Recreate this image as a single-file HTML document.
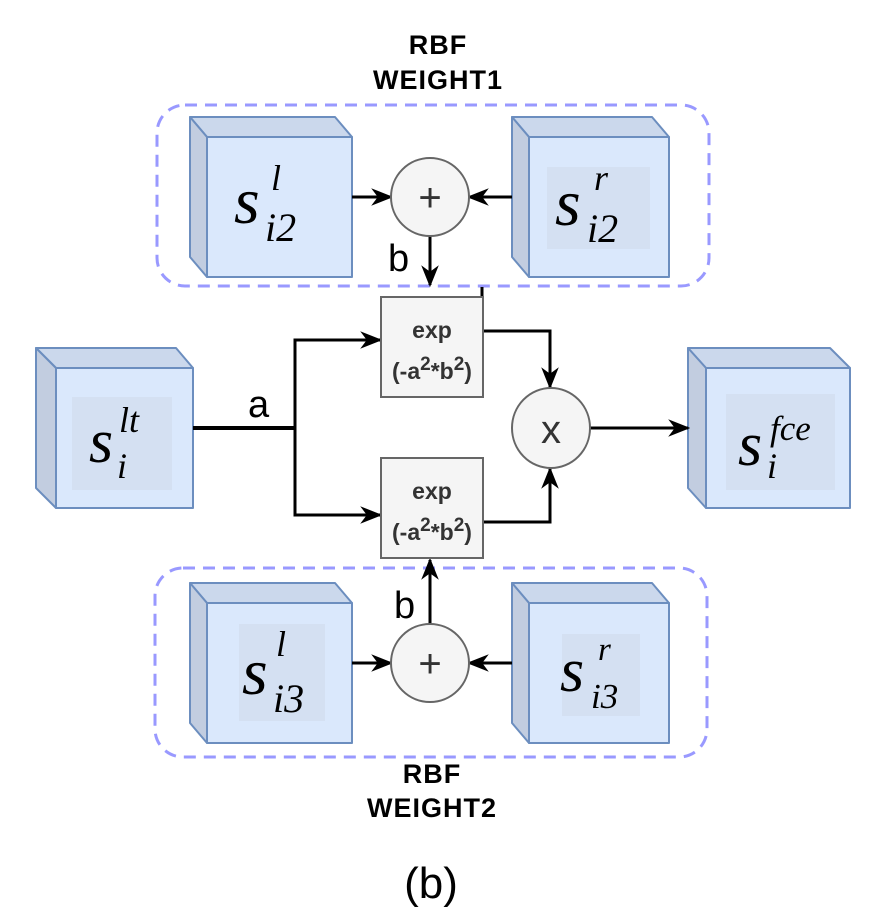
<!DOCTYPE html><html><head><style>body{margin:0;background:#fff}svg{display:block}</style></head><body>
<svg width="879" height="913" xmlns="http://www.w3.org/2000/svg" font-family="Liberation Sans, sans-serif">
<defs><marker id="a" viewBox="0 0 10 10" refX="9" refY="5" markerWidth="22" markerHeight="22" orient="auto" markerUnits="userSpaceOnUse"><path d="M0,1 L10,5 L0,9 L3,5z" fill="#000"/></marker></defs>
<g text-anchor="middle" font-weight="bold" style="font-size:27px;letter-spacing:1px"><text x="438" y="54">RBF</text><text x="438" y="89">WEIGHT1</text><text x="432" y="783">RBF</text><text x="432" y="817">WEIGHT2</text></g>
<text x="431" y="898" text-anchor="middle" style="font-size:44px">(b)</text>
<rect x="157" y="105" width="552" height="181" rx="28" fill="none" stroke="#9999ff" stroke-width="3" stroke-dasharray="12 8"/>
<rect x="155" y="568" width="552" height="189" rx="28" fill="none" stroke="#9999ff" stroke-width="3" stroke-dasharray="12 8"/>
<g stroke="#6c8ebf" stroke-width="2" stroke-linejoin="round">
<g><polygon points="190,117 335,117 352,137 207,137" fill="#cbd8ec"/><polygon points="190,117 207,137 207,277 190,257" fill="#c2cde0"/><rect x="207" y="137" width="145" height="140" fill="#dae8fc"/></g>
<g transform="translate(322,0)"><polygon points="190,117 330,117 347,137 207,137" fill="#cbd8ec"/><polygon points="190,117 207,137 207,277 190,257" fill="#c2cde0"/><rect x="207" y="137" width="140" height="140" fill="#dae8fc"/></g>
<g transform="translate(0,466)"><polygon points="190,117 335,117 352,137 207,137" fill="#cbd8ec"/><polygon points="190,117 207,137 207,277 190,257" fill="#c2cde0"/><rect x="207" y="137" width="145" height="140" fill="#dae8fc"/></g>
<g transform="translate(322,466)"><polygon points="190,117 330,117 347,137 207,137" fill="#cbd8ec"/><polygon points="190,117 207,137 207,277 190,257" fill="#c2cde0"/><rect x="207" y="137" width="140" height="140" fill="#dae8fc"/></g>
<polygon points="36,348 176,348 193,368 56,368" fill="#cbd8ec"/><polygon points="36,348 56,368 56,508 36,488" fill="#c2cde0"/><rect x="56" y="368" width="137" height="140" fill="#dae8fc"/>
<polygon points="688,348 830,348 850,368 706,368" fill="#cbd8ec"/><polygon points="688,348 706,368 706,508 688,488" fill="#c2cde0"/><rect x="706" y="368" width="144" height="140" fill="#dae8fc"/>
</g>
<g fill="#d4e0f2"><rect x="547" y="167" width="103" height="82"/><rect x="239" y="624" width="86" height="97"/><rect x="562" y="634" width="78" height="82"/><rect x="72" y="397" width="100" height="93"/><rect x="726" y="394" width="109" height="96"/></g>
<g font-family="Liberation Serif, serif" font-style="italic" fill="#000">
<text x="234" y="223" style="font-size:66px">s</text><text x="271" y="190" style="font-size:36px">l</text><text x="265" y="241" style="font-size:40px">i2</text>
<text x="555" y="225" style="font-size:66px">s</text><text x="594" y="190" style="font-size:36px">r</text><text x="587" y="242" style="font-size:40px">i2</text>
<text x="242" y="694" style="font-size:66px">s</text><text x="276" y="656" style="font-size:36px">l</text><text x="273" y="712" style="font-size:40px">i3</text>
<text x="560" y="691" style="font-size:62px">s</text><text x="598" y="660" style="font-size:33px">r</text><text x="591" y="708" style="font-size:35px">i3</text>
<text x="89" y="462" style="font-size:62px">s</text><text x="119" y="432" style="font-size:36px">lt</text><text x="117" y="478" style="font-size:36px">i</text>
<text x="738" y="465" style="font-size:62px">s</text><text x="770" y="440" style="font-size:35px">fce</text><text x="767" y="478" style="font-size:36px">i</text>
</g>
<g stroke="#000" stroke-width="3" fill="none">
<line x1="352" y1="197" x2="391" y2="197" marker-end="url(#a)"/><line x1="512" y1="197" x2="469" y2="197" marker-end="url(#a)"/>
<line x1="430" y1="236" x2="430" y2="285" marker-end="url(#a)"/><line x1="482" y1="287" x2="482" y2="296"/>
<line x1="352" y1="663" x2="391" y2="663" marker-end="url(#a)"/><line x1="512" y1="663" x2="469" y2="663" marker-end="url(#a)"/>
<line x1="430" y1="624" x2="430" y2="560" marker-end="url(#a)"/>
<line x1="193" y1="428" x2="295" y2="428" stroke-width="4"/>
<polyline points="295,428 295,340 380,340" marker-end="url(#a)"/><polyline points="295,428 295,515 380,515" marker-end="url(#a)"/>
<polyline points="483,331 550,331 550,387" marker-end="url(#a)"/><polyline points="483,522 550,522 550,469" marker-end="url(#a)"/>
<line x1="590" y1="428" x2="688" y2="428" marker-end="url(#a)"/>
</g>
<g fill="#f5f5f5" stroke="#666" stroke-width="2"><circle cx="430" cy="197" r="39"/><circle cx="430" cy="663" r="39"/><ellipse cx="551" cy="428" rx="39" ry="40"/>
<rect x="381" y="297" width="102" height="100"/><rect x="381" y="458" width="102" height="100"/></g>
<g text-anchor="middle" fill="#333"><text x="430" y="211" style="font-size:40px">+</text><text x="430" y="677" style="font-size:40px">+</text><text x="551" y="443" style="font-size:40px">x</text>
<g font-weight="bold" style="font-size:23px"><text x="432" y="338">exp</text><text x="432" y="379">(-a<tspan dy="-9" style="font-size:19px">2</tspan><tspan dy="9">*b</tspan><tspan dy="-9" style="font-size:19px">2</tspan><tspan dy="9">)</tspan></text>
<text x="432" y="499">exp</text><text x="432" y="540">(-a<tspan dy="-9" style="font-size:19px">2</tspan><tspan dy="9">*b</tspan><tspan dy="-9" style="font-size:19px">2</tspan><tspan dy="9">)</tspan></text></g></g>
<g style="font-size:38px" fill="#000"><text x="388" y="271">b</text><text x="394" y="618">b</text><text x="248" y="417">a</text></g>
</svg></body></html>
